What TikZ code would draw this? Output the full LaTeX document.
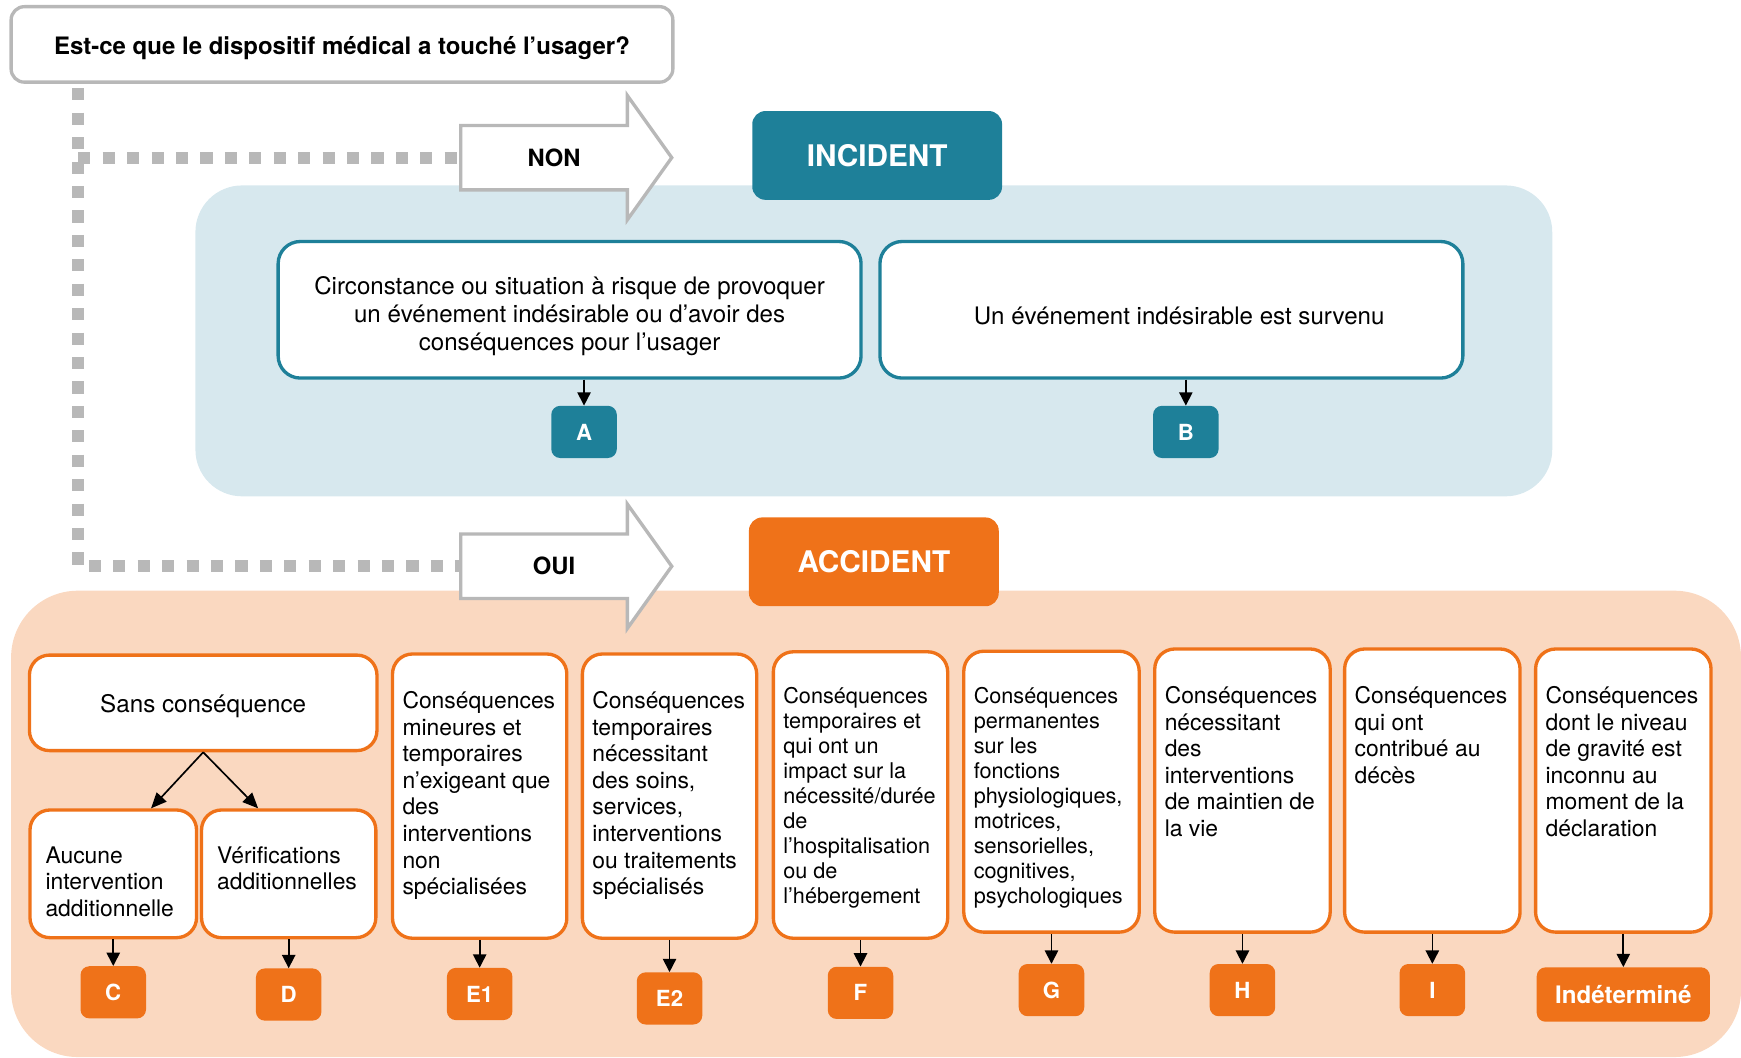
\documentclass[tikz,border=0pt]{standalone}
\usepackage{fontspec}
\setmainfont{TeX Gyre Heros}
\usetikzlibrary{positioning,arrows.meta}
\definecolor{sarcelle}{HTML}{1E8099}
\definecolor{bleupale}{HTML}{D7E8EE}
\definecolor{orangefonce}{HTML}{EF7219}
\definecolor{peche}{HTML}{FAD8C0}
\definecolor{grisclair}{HTML}{B8B8B8}
\newcommand{\cons}[5]{\parbox[c][#2][t]{#1}{\raggedright\leftskip=#3\rule{0pt}{#4}#5}}
\newcommand{\centre}[1]{\parbox[c][123pt][c]{525pt}{\centering\vspace*{11pt}#1}}
\tikzset{
	cadre/.style={draw=sarcelle,line width=3pt,fill=white,rounded corners=20pt,inner sep=0pt,
		font=\fontsize{21.7}{25}\selectfont},
	conseq/.style={draw=orangefonce,line width=3pt,fill=white,rounded corners=18pt,inner sep=0pt},
	lettre/.style={fill=sarcelle,text=white,font=\bfseries\fontsize{20}{24}\selectfont,
		minimum width=59pt,minimum height=47pt,rounded corners=8pt,inner sep=0pt},
	lettreo/.style={lettre,fill=orangefonce},
	titre/.style={lettre,font=\bfseries\fontsize{26.8}{30}\selectfont,
		minimum width=225pt,minimum height=80pt,rounded corners=12pt},
	bloc/.style={draw=grisclair,line width=3pt,fill=white,line join=miter},
	pointille/.style={grisclair,line width=11pt,dash pattern=on 11pt off 11pt},
	basse/.style={text height=21pt,text depth=3pt},
	fleche/.style={->,line width=1.5pt}
}
\begin{document}
\begin{tikzpicture}[x=1pt,y=-1pt,line join=round,
		font=\fontsize{20.6}{24}\selectfont,>={Triangle[length=12pt,width=12pt]}]
	\useasboundingbox (0,0) rectangle (1568,952);
	\fill[bleupale,rounded corners=42pt] (176,167) rectangle (1398,447);
	\fill[peche,rounded corners=60pt] (10,532) rectangle (1568,952);
	\node[draw=grisclair,line width=3pt,rounded corners=12pt,minimum width=596pt,
		minimum height=68pt,basse,font=\bfseries\fontsize{21.6}{25}\selectfont] (q) at (308,40)
		{Est-ce que le dispositif médical a touché l’usager?};
	\foreach \y/\t/\n in {142/NON/non,510/OUI/oui}{
		\draw[bloc] (415,\y-29) -- (565,\y-29) -- (565,\y-56) -- (605,\y)
			-- (565,\y+56) -- (565,\y+29) -- (415,\y+29) -- cycle;
		\node[font=\bfseries\fontsize{21.4}{25}\selectfont] (\n) at (499,\y) {\t};
		\coordinate (queue\n) at (415,\y);
	}
	\path (q.south west) ++(62,4) coordinate (d);
	\draw[pointille] (d) |- (queueoui);
	\draw[pointille] (d |- queuenon) -- (queuenon);
	\node[titre] (inc) at (790,140) {INCIDENT};
	\node[titre,fill=orangefonce] (acc) at (787,506) {ACCIDENT};
	\node[cadre] (c1) at (513,279) {\centre{Circonstance ou situation à risque de provoquer\\
		un événement indésirable ou d’avoir des\\conséquences pour l’usager}};
	\node[cadre] (c2) at (1055,279) {\centre{\hspace*{14pt}Un événement indésirable est survenu}};
	\node[lettre] (a) at (526,389) {A};
	\node[lettre] (b) at (1068,389) {B};
	\draw[fleche] (a.north |- c1.south) -- (a);
	\draw[fleche] (b.north |- c2.south) -- (b);
	\node[conseq,minimum width=313pt,minimum height=86pt,basse,font=\fontsize{21.8}{25}\selectfont]
		(sans) at (183,633) {Sans conséquence};
	\node[conseq] (auc) at (102,787) {\cons{150pt}{115pt}{14pt}{48pt}{Aucune\\intervention\\additionnelle}};
	\node[conseq] (ver) at (260,787) {\cons{157pt}{115pt}{14pt}{48pt}{Vérifications\\additionnelles}};
	\node[conseq] (e1) at (432,717) {\cons{157pt}{256pt}{9pt}{49pt}{Conséquences\\mineures et\\
		temporaires\\n’exigeant que\\des\\interventions\\non\\spécialisées}};
	\node[conseq] (e2) at (603,717) {\cons{157pt}{256pt}{9pt}{49pt}{Conséquences\\temporaires\\
		nécessitant\\des soins,\\services,\\interventions\\ou traitements\\spécialisés}};
	\node[conseq,font=\fontsize{19.5}{22.5}\selectfont] (f) at (775,716) {\cons{157pt}{258pt}{9pt}{47pt}{Conséquences\\
		temporaires et\\qui ont un\\impact sur la\\nécessité/durée\\de\\l’hospitalisation\\ou de\\l’hébergement}};
	\node[conseq,font=\fontsize{19.5}{22.5}\selectfont] (g) at (947,713) {\cons{158pt}{253pt}{9pt}{47pt}{Conséquences\\
		permanentes\\sur les\\fonctions\\physiologiques,\\motrices,\\sensorielles,\\cognitives,\\psychologiques}};
	\node[conseq] (h) at (1119,712) {\cons{158pt}{255pt}{9pt}{49pt}{Conséquences\\nécessitant\\des\\
		interventions\\de maintien de\\la vie}};
	\node[conseq] (i) at (1290,712) {\cons{158pt}{255pt}{9pt}{49pt}{Conséquences\\qui ont\\contribué au\\décès}};
	\node[conseq] (ind) at (1462,712) {\cons{158pt}{255pt}{9pt}{49pt}{Conséquences\\dont le niveau\\
		de gravité est\\inconnu au\\moment de la\\déclaration}};
	\draw[fleche,>={Triangle[length=14pt,width=12pt]}] (sans.south) -- (auc.60);
	\draw[fleche,>={Triangle[length=14pt,width=12pt]}] (sans.south) -- (ver.115);
	\foreach \n/\t/\e in {auc/C/24,ver/D/26,e1/E1/25,e2/E2/29,f/F/24,g/G/27,h/H/27,i/I/27}{
		\node[lettreo,below=\e pt of \n] (l\n) {\t};
		\draw[fleche] (\n) -- (l\n);
	}
	\node[lettreo,minimum width=156pt,minimum height=49pt,font=\bfseries\fontsize{21.7}{25}\selectfont,
		below=30pt of ind] (lind) {Indéterminé};
	\draw[fleche] (ind) -- (lind);
\end{tikzpicture}
\end{document}
